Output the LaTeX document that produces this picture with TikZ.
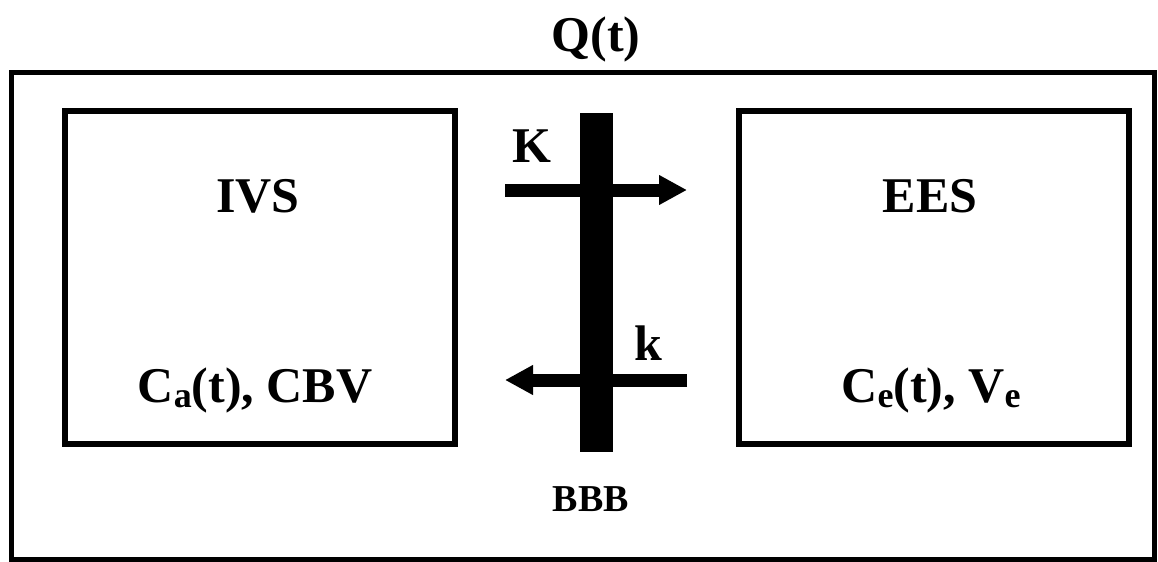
\documentclass[tikz,border=0pt]{standalone}
\usepackage{fontspec}
\setmainfont{Liberation Serif}
\usepackage{graphicx}
\usetikzlibrary{arrows.meta}
\newcommand\lowsub[1]{\raisebox{-0.1em}{\scalebox{0.72}{#1}}}
\tikzset{
  lbl/.style={inner sep=0pt, anchor=base, font=\fontsize{25}{25}\selectfont\bfseries},
  comp/.style={draw, line width=3pt, inner sep=0pt, minimum width=195pt, minimum height=166.5pt},
  flow/.style={line width=6.5pt, -{Triangle[length=14pt,width=14pt]}}
}
\begin{document}
\begin{tikzpicture}[x=0.5pt,y=-0.5pt]
\useasboundingbox (0,0) rectangle (1158,562);
\node[draw, line width=2.5pt, inner sep=0pt, minimum width=571.5pt, minimum height=243.5pt] (outer) at (583,316) {};
\node[comp] (ivsbox) at (260,277.5) {};
\node[comp] (eesbox) at (934,277.5) {};
\node[fill=black, inner sep=0pt, minimum width=16.5pt, minimum height=169.5pt] (bbbbar) at (596.5,282.5) {};
\node[lbl] (q) at (596,52) {Q(t)};
\node[lbl] (ivs) at (258,212) {IVS};
\node[lbl] (ca) at (255,402) {C\lowsub{a}(t), CBV};
\node[lbl] (ees) at (930,212) {EES};
\node[lbl] (ce) at (931,402) {C\lowsub{e}(t), V\lowsub{e}};
\node[lbl] (K) at (532,162) {K};
\node[lbl] (k) at (648,360) {k};
\node[lbl, font=\fontsize{19}{19}\selectfont\bfseries] (bbb) at (591,511) {BBB};
\coordinate (Ks) at (505,190);
\coordinate (Ke) at (687,190);
\coordinate (ks) at (687,380);
\coordinate (ke) at (505,380);
\draw[flow] (Ks) -- (Ke);
\draw[flow] (ks) -- (ke);
\end{tikzpicture}
\end{document}
